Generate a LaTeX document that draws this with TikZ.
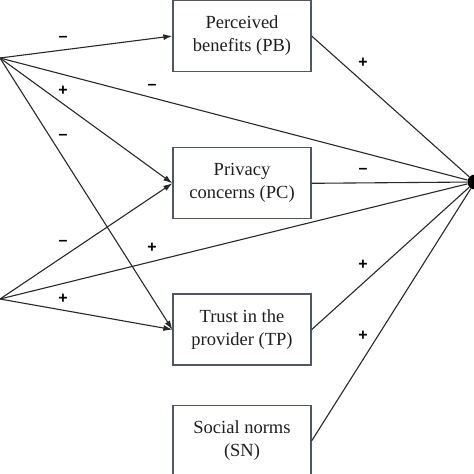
\documentclass[tikz,border=0pt]{standalone}
\usepackage{fontspec}
\setmainfont{Liberation Serif}[Ligatures=TeX]
\newfontfamily\boxfont{Liberation Serif}[Ligatures=TeX]
\newfontfamily\signfont{Liberation Sans}[Ligatures=TeX]
\usetikzlibrary{arrows.meta, positioning}
\definecolor{boxgray}{RGB}{78,86,104}
\definecolor{linegray}{RGB}{40,40,40}
\definecolor{textgray}{RGB}{30,30,30}
\tikzset{%
  factor/.style={draw=boxgray, line width=1.3pt, minimum width=138pt, minimum height=71pt,
    inner sep=0pt, align=center, text=textgray, font=\boxfont\fontsize{18.5}{23}\selectfont},
  link/.style={draw=linegray, line width=1.1pt},
  move/.style={link, -{Latex[length=9pt,width=6pt]}},
  dot/.style={circle, fill=black, inner sep=0pt, minimum size=15pt},
  sign/.style={inner sep=0pt, text=black, font=\signfont\bfseries\fontsize{16}{16}\selectfont}
}
\begin{document}
\begin{tikzpicture}[x=1pt, y=-1pt]
  \useasboundingbox (0,0) rectangle (474,474);
  \node[factor] (pb) at (242,36) {Perceived\\benefits (PB)};
  \node[factor, below=75pt of pb] (pc) {Privacy\\concerns (PC)};
  \node[factor, below=74pt of pc] (tp) {Trust in the\\provider (TP)};
  \node[factor, below=39pt of tp] (sn) {Social norms\\(SN)};
  \node[dot] (out) at (475,182) {};
  \coordinate (src1) at (0,58);
  \coordinate (src2) at (0,299);
  % arrows from the left
  \draw[move] (src1) -- (pb.west);
  \draw[move] (src1) -- (pc.west);
  \draw[move] (src1) -- (tp.west);
  \draw[link] (src1) -- (out);
  \draw[move] (src2) -- (pc.west);
  \draw[move] (src2) -- (tp.west);
  \draw[link] (src2) -- (out);
  % lines to the dot
  \draw[link] (pb.east) -- (out);
  \draw[link] (pc.east) -- (out);
  \draw[link] (tp.east) -- (out);
  \draw[link] (sn.east) -- (out);
  % signs
  \node[sign] (s1) at (63,39) {--};
  \node[sign] (s2) at (63,91) {+};
  \node[sign] (s3) at (63,137) {--};
  \node[sign] (s4) at (152,87) {--};
  \node[sign] (s5) at (63,243) {--};
  \node[sign] (s6) at (152,248) {+};
  \node[sign] (s7) at (63,299) {+};
  \node[sign] (s8) at (363,63) {+};
  \node[sign] (s9) at (363,171) {--};
  \node[sign] (s10) at (363,265) {+};
  \node[sign] (s11) at (363,336) {+};
\end{tikzpicture}
\end{document}
